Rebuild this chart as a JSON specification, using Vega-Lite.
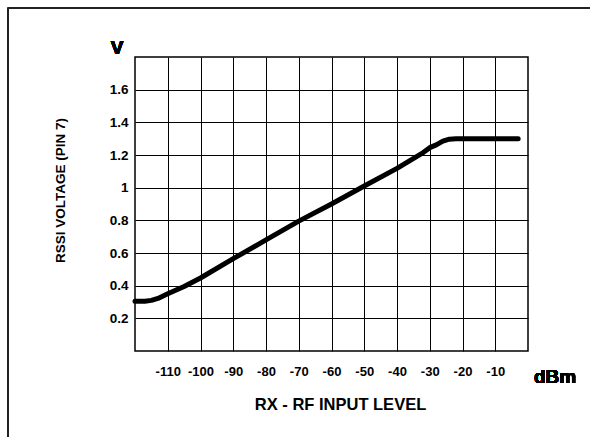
{
  "$schema": "https://vega.github.io/schema/vega-lite/v6.json",
  "autosize": {"type": "none"},
  "width": 393,
  "height": 294,
  "padding": {"left": 135, "top": 57, "right": 62, "bottom": 86},
  "background": "white",
  "config": {
    "view": {"stroke": "black", "strokeWidth": 1.5},
    "font": "Arial"
  },
  "data": {
    "values": [
      {"dbm": -120, "v": 0.305},
      {"dbm": -117, "v": 0.305},
      {"dbm": -115, "v": 0.31},
      {"dbm": -113, "v": 0.322},
      {"dbm": -110, "v": 0.35},
      {"dbm": -105, "v": 0.395},
      {"dbm": -100, "v": 0.447},
      {"dbm": -90, "v": 0.565},
      {"dbm": -80, "v": 0.68},
      {"dbm": -70, "v": 0.795},
      {"dbm": -60, "v": 0.9},
      {"dbm": -50, "v": 1.01},
      {"dbm": -40, "v": 1.118},
      {"dbm": -32, "v": 1.215},
      {"dbm": -30, "v": 1.245},
      {"dbm": -28, "v": 1.262},
      {"dbm": -26, "v": 1.285},
      {"dbm": -24, "v": 1.297},
      {"dbm": -22, "v": 1.3},
      {"dbm": -3, "v": 1.3}
    ]
  },
  "layer": [
    {
      "mark": {"type": "line", "color": "black", "strokeWidth": 5, "strokeCap": "round", "strokeJoin": "round"},
      "encoding": {
        "x": {
          "field": "dbm", "type": "quantitative",
          "scale": {"domain": [-120, 0], "nice": false, "zero": false},
          "axis": {
            "values": [-110, -100, -90, -80, -70, -60, -50, -40, -30, -20, -10],
            "tickCount": 30,
            "labelExpr": "toString(datum.value)",
            "labelOverlap": false, "labelSeparation": 0, "labelBound": false,
            "grid": true, "gridColor": "black", "gridWidth": 1, "gridOpacity": 1,
            "domain": false, "ticks": false,
            "labelFont": "Arial", "labelFontWeight": 700, "labelFontSize": 13,
            "labelColor": "black", "labelPadding": 14,
            "title": "RX - RF INPUT LEVEL",
            "titleFont": "Arial", "titleFontWeight": 700, "titleFontSize": 16.5,
            "titleColor": "black", "titleX": 205, "titleY": 53, "titleBaseline": "middle", "titleAlign": "center", "titleAnchor": null
          }
        },
        "y": {
          "field": "v", "type": "quantitative",
          "scale": {"domain": [0, 1.8], "nice": false, "zero": false},
          "axis": {
            "values": [0.2, 0.4, 0.6, 0.8, 1, 1.2, 1.4, 1.6],
            "tickCount": 30,
            "format": "~g",
            "labelOverlap": false,
            "grid": true, "gridColor": "black", "gridWidth": 1, "gridOpacity": 1,
            "domain": false, "ticks": false,
            "labelFont": "Arial", "labelFontWeight": 700, "labelFontSize": 13.5,
            "labelColor": "black", "labelPadding": 7,
            "title": "RSSI VOLTAGE (PIN 7)",
            "titleFont": "Arial", "titleFontWeight": 700, "titleFontSize": 13.5,
            "titleColor": "black", "titleAngle": -90, "titleX": -75, "titleY": 133,
            "titleBaseline": "middle", "titleAlign": "center", "titleAnchor": null
          }
        }
      }
    },
    {
      "mark": {"type": "text", "text": "V", "font": "Arial", "fontWeight": 700, "fontSize": 19, "color": "black", "baseline": "middle", "align": "center"},
      "encoding": {"x": {"datum": -125.5}, "y": {"datum": 1.855}}
    },
    {
      "mark": {"type": "text", "text": "dBm", "font": "Arial", "fontWeight": 700, "fontSize": 19, "color": "black", "baseline": "middle", "align": "center"},
      "encoding": {"x": {"datum": 8.24}, "y": {"datum": -0.159}}
    },
    {
      "mark": {"type": "rule", "color": "#222", "strokeWidth": 2},
      "encoding": {"x": {"datum": -158.8}, "x2": {"datum": 20}, "y": {"datum": 2.1}}
    },
    {
      "mark": {"type": "rule", "color": "#222", "strokeWidth": 1.5},
      "encoding": {"x": {"datum": -158.8}, "y": {"datum": 2.1}, "y2": {"datum": -0.6}}
    }
  ]
}
